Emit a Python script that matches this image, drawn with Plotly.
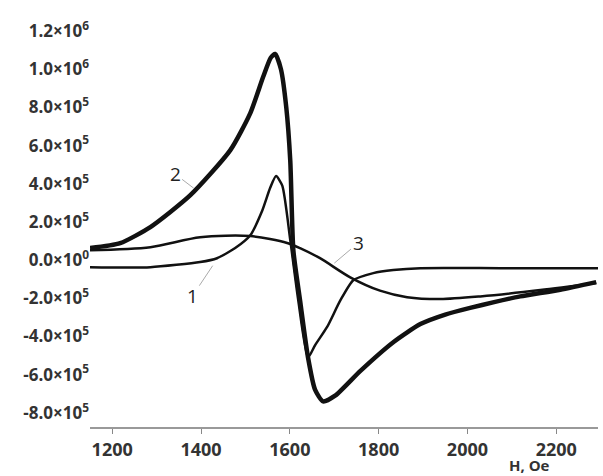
import plotly.graph_objects as go

# Curve 1 (thin)
h1 = [1150, 1286, 1398, 1436, 1477, 1511, 1538, 1556, 1569, 1583, 1601, 1619, 1641, 1657, 1684, 1714, 1743, 1788, 1833, 1894, 2074, 2294]
v1 = [-0.37e5, -0.37e5, -0.1e5, 0.1e5, 0.63e5, 1.3e5, 2.6e5, 3.8e5, 4.4e5, 3.9e5, 1.05e5, -2.1e5, -5.1e5, -4.45e5, -3.5e5, -2.1e5, -1.05e5, -0.68e5, -0.52e5, -0.42e5, -0.42e5, -0.42e5]

# Curve 2 (thick)
h2 = [1150, 1218, 1286, 1376, 1466, 1511, 1540, 1557, 1567, 1580, 1592, 1601, 1608, 1623, 1641, 1657, 1675, 1702, 1759, 1833, 1894, 1950, 2006, 2060, 2119, 2209, 2290]
v2 = [0.63e5, 0.89e5, 1.73e5, 3.4e5, 5.76e5, 7.7e5, 9.6e5, 1.06e6, 1.08e6, 1.0e6, 8.0e5, 5.2e5, 0.5e5, -2.1e5, -5.1e5, -6.8e5, -7.4e5, -7.1e5, -5.8e5, -4.3e5, -3.35e5, -2.85e5, -2.5e5, -2.2e5, -1.9e5, -1.55e5, -1.15e5]

# Curve 3 (thin)
h3 = [1150, 1286, 1398, 1511, 1594, 1623, 1668, 1736, 1803, 1864, 1939, 2029, 2164, 2290]
v3 = [0.52e5, 0.68e5, 1.2e5, 1.26e5, 0.9e5, 0.63e5, 0.1e5, -0.9e5, -1.6e5, -1.94e5, -2.04e5, -1.9e5, -1.57e5, -1.2e5]

y_ticks = [1.2e6, 1.0e6, 8.0e5, 6.0e5, 4.0e5, 2.0e5, 0.0, -2.0e5, -4.0e5, -6.0e5, -8.0e5]
y_text = ["1.2×10<sup>6</sup>", "1.0×10<sup>6</sup>", "8.0×10<sup>5</sup>", "6.0×10<sup>5</sup>",
          "4.0×10<sup>5</sup>", "2.0×10<sup>5</sup>", "0.0×10<sup>0</sup>", "-2.0×10<sup>5</sup>",
          "-4.0×10<sup>5</sup>", "-6.0×10<sup>5</sup>", "-8.0×10<sup>5</sup>"]
x_ticks = [1200, 1400, 1600, 1800, 2000, 2200]

fig = go.Figure()
fig.add_trace(go.Scatter(x=h3, y=v3, mode="lines", line=dict(color="#111", width=2.5, shape="spline", smoothing=0.8)))
fig.add_trace(go.Scatter(x=h1, y=v1, mode="lines", line=dict(color="#111", width=2.5, shape="spline", smoothing=0.6)))
fig.add_trace(go.Scatter(x=h2, y=v2, mode="lines", line=dict(color="#111", width=4.5, shape="spline", smoothing=0.6)))

lab_font = dict(family="Open Sans", size=19, color="#222")
fig.add_annotation(x=1389, y=3.67e5, text="2", showarrow=True, arrowhead=0, arrowwidth=1, arrowcolor="#aaa",
                   ax=-21, ay=-16, standoff=3, font=lab_font)
fig.add_annotation(x=1430, y=-0.16e5, text="1", showarrow=True, arrowhead=0, arrowwidth=1, arrowcolor="#aaa",
                   ax=-22, ay=33, standoff=3, font=lab_font)
fig.add_annotation(x=1695, y=-0.26e5, text="3", showarrow=True, arrowhead=0, arrowwidth=1, arrowcolor="#aaa",
                   ax=26, ay=-22, standoff=3, font=lab_font)
fig.add_annotation(xref="paper", yref="paper", x=0.866, xanchor="center", y=0, yanchor="middle", yshift=-38,
                   text="H, Oe", showarrow=False,
                   font=dict(family="Open Sans", size=15, color="#333", weight="bold"))

fig.update_layout(
    width=603, height=476,
    margin=dict(l=90, r=5, t=10, b=49),
    paper_bgcolor="white", plot_bgcolor="white",
    showlegend=False,
    xaxis=dict(range=[1150, 2294], tickvals=x_ticks, ticks="outside", ticklen=5, tickcolor="#888",
               showline=True, linecolor="#999", linewidth=2, showgrid=False, zeroline=False,
               ticklabelstandoff=0,
               tickfont=dict(family="Open Sans", size=18, color="#333", weight="bold")),
    yaxis=dict(range=[-8.74e5, 1.31e6], tickvals=y_ticks, ticktext=y_text, ticks="",
               showline=False, showgrid=False, zeroline=False, ticklabelstandoff=0,
               tickfont=dict(family="Open Sans", size=17, color="#333", weight="bold")),
)
fig.write_html("out.html")
